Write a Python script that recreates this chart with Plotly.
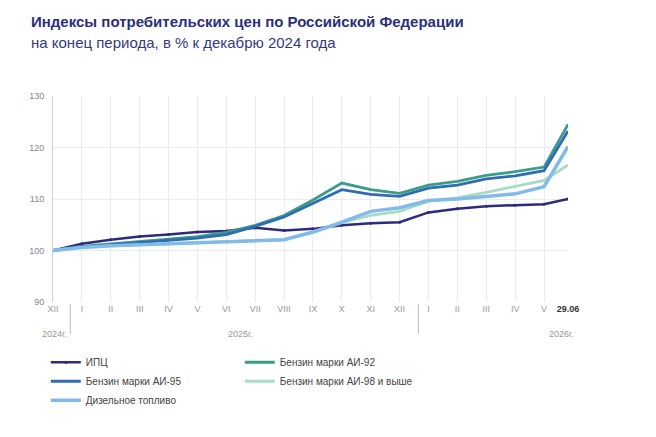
import plotly.graph_objects as go

# ---- data ----
x_pos = [0, 1, 2, 3, 4, 5, 6, 7, 8, 9, 10, 11, 12, 13, 14, 15, 16, 17, 17.83]
tick_labels = ["XII", "I", "II", "III", "IV", "V", "VI", "VII", "VIII", "IX", "X", "XI", "XII",
               "I", "II", "III", "IV", "V", "29.06"]
year_labels = ["2024г.", "2025г.", "2026г."]

cpi   = [100, 101.3, 102.1, 102.7, 103.1, 103.6, 103.8, 104.4, 103.9, 104.2, 104.9, 105.3, 105.5,
         107.4, 108.1, 108.6, 108.8, 109.0, 110.0]
ai92  = [100, 100.8, 101.3, 101.7, 102.2, 102.7, 103.5, 104.9, 106.8, 109.8, 113.1, 111.8, 111.1,
         112.7, 113.4, 114.6, 115.3, 116.2, 124.5]
ai95  = [100, 100.7, 101.1, 101.5, 101.9, 102.4, 103.1, 104.7, 106.5, 109.2, 111.8, 110.9, 110.5,
         112.1, 112.7, 113.9, 114.5, 115.5, 123.2]
ai98  = [100, 100.6, 100.9, 101.1, 101.4, 101.6, 101.8, 101.9, 102.1, 103.5, 105.4, 106.8, 107.6,
         109.6, 110.2, 111.3, 112.4, 113.6, 116.6]
diesel = [100, 100.6, 100.9, 101.1, 101.4, 101.6, 101.8, 101.9, 102.1, 103.6, 105.5, 107.6, 108.3,
          109.7, 110.0, 110.5, 111.0, 112.4, 120.2]

series = [
    ("ИПЦ", cpi, "#2d2a7f", 2.5),
    ("Бензин марки АИ-92", ai92, "#3a9c8b", 2.8),
    ("Бензин марки АИ-95", ai95, "#2f6cb3", 2.8),
    ("Бензин марки АИ-98 и выше", ai98, "#a7dcc4", 2.8),
    ("Дизельное топливо", diesel, "#82bbea", 3.5),
]

FONT = "Liberation Sans, Arial, sans-serif"

fig = go.Figure()
for name, vals, col, w in series:
    fig.add_trace(go.Scatter(
        x=x_pos, y=vals, name=name, mode="lines+markers" if name == "ИПЦ" else "lines",
        line=dict(color=col, width=w),
        marker=dict(size=3, color=col),
    ))

ticktext = tick_labels[:-1] + ["<b><span style='color:#333'>" + tick_labels[-1] + "</span></b>"]

fig.update_layout(
    width=656, height=437,
    margin=dict(l=53, r=88, t=96, b=135),
    paper_bgcolor="white", plot_bgcolor="white",
    font=dict(family=FONT, color="#888"),
    showlegend=True,
    legend=dict(
        orientation="h", x=-0.014, y=-0.222, xanchor="left", yanchor="top",
        entrywidth=149, entrywidthmode="pixels",
        font=dict(size=10, color="#444", family=FONT),
        itemwidth=30, tracegroupgap=0,
    ),
    xaxis=dict(
        range=[0, 17.83], tickmode="array", tickvals=x_pos, ticktext=ticktext,
        showgrid=True, gridcolor="#ececec", gridwidth=1, zeroline=False,
        showline=False, ticks="", tickfont=dict(size=9, color="#999"),
        tickangle=0,
    ),
    yaxis=dict(
        range=[90, 130], tickvals=[90, 100, 110, 120, 130],
        showgrid=True, gridcolor="#ececec", zeroline=False,
        showline=True, linecolor="#cfcfcf", linewidth=1,
        ticks="", tickfont=dict(size=9, color="#888"), ticklabelstandoff=6,
    ),
)

# emphasised 100 line
fig.add_shape(type="line", xref="paper", yref="y", x0=0, x1=1, y0=100, y1=100,
              line=dict(color="#c4c4c4", width=1), layer="below")

# year separators
for xs in [0.6, 12.65]:
    fig.add_shape(type="line", xref="x", yref="paper", x0=xs, x1=xs, y0=-0.01, y1=-0.155,
                  line=dict(color="#bbbbbb", width=1))

# year labels
for xv, txt in zip([0.05, 6.5, 17.6], year_labels):
    fig.add_annotation(x=xv, y=-0.153, xref="x", yref="paper", text=txt, showarrow=False,
                       font=dict(size=9, color="#999", family=FONT), xanchor="center",
                       yanchor="middle")

# titles
fig.add_annotation(x=-0.047, y=1.36, xref="paper", yref="paper",
                   text="<b>Индексы потребительских цен по Российской Федерации</b>",
                   showarrow=False, xanchor="left", yanchor="middle",
                   font=dict(size=15, color="#2c2f7c", family=FONT))
fig.add_annotation(x=-0.047, y=1.262, xref="paper", yref="paper",
                   text="на конец периода, в % к декабрю 2024 года",
                   showarrow=False, xanchor="left", yanchor="middle",
                   font=dict(size=15, color="#35397f", family=FONT))

fig.write_html("out.html")
